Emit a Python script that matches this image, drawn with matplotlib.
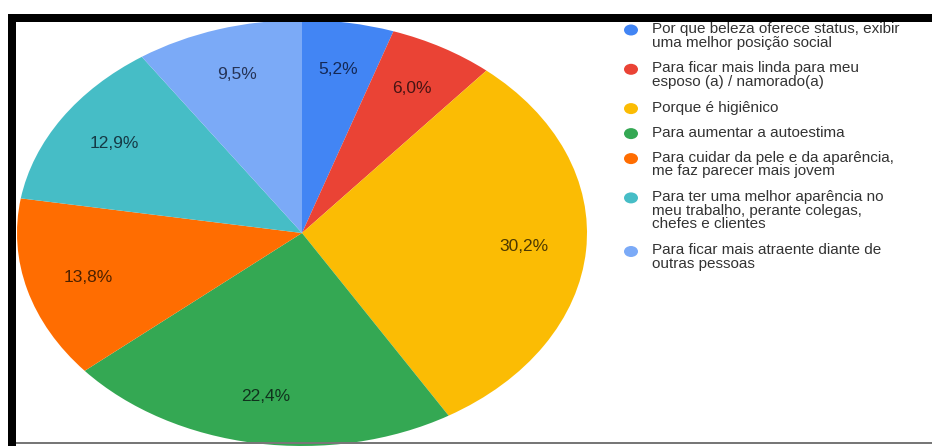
import matplotlib.pyplot as plt
from matplotlib.patches import Ellipse, Rectangle
from matplotlib.colors import to_rgb

# Respostas (percentuais)
labels = [
    "Por que beleza oferece status, exibir\numa melhor posição social",
    "Para ficar mais linda para meu\nesposo (a) / namorado(a)",
    "Porque é higiênico",
    "Para aumentar a autoestima",
    "Para cuidar da pele e da aparência,\nme faz parecer mais jovem",
    "Para ter uma melhor aparência no\nmeu trabalho, perante colegas,\nchefes e clientes",
    "Para ficar mais atraente diante de\noutras pessoas",
]
values = [5.2, 6.0, 30.2, 22.4, 13.8, 12.9, 9.5]
colors = ["#4285F4", "#EA4335", "#FBBC04", "#34A853", "#FF6D01", "#46BDC6", "#7BAAF7"]

plt.rcParams['font.family'] = ['Liberation Sans', 'DejaVu Sans']

W, H = 932, 446
fig = plt.figure(figsize=(W / 100, H / 100), dpi=100)

# pie area (stretched horizontally)
px_left, px_right, px_top, px_bottom = 17, 587, 20, 446
ax = fig.add_axes([px_left / W, 1 - px_bottom / H,
                   (px_right - px_left) / W, (px_bottom - px_top) / H])
wedges, _, autotexts = ax.pie(
    values, colors=colors, startangle=90, counterclock=False,
    autopct=lambda p: f"{p:.1f}%".replace(".", ","), pctdistance=0.78,
    wedgeprops=dict(edgecolor="none"), textprops=dict(fontsize=12.5))
for t, c in zip(autotexts, colors):
    r, g, b = to_rgb(c)
    t.set_color((r * 0.3, g * 0.3, b * 0.35))
ax.set_aspect("auto")
ax.set_xlim(-1, 1)
ax.set_ylim(-1, 1)
ax.axis("off")

# overlay in pixel coordinates for legend and frame
ov = fig.add_axes([0, 0, 1, 1], zorder=5)
ov.set_xlim(0, W)
ov.set_ylim(H, 0)
ov.axis("off")
ov.patch.set_alpha(0)

line_h = 14.3
gap = 10.7
y = 30
for lab, c in zip(labels, colors):
    ov.add_patch(Ellipse((631, y), 14, 11, color=c, lw=0))
    ov.text(652, y - 8, lab, fontsize=11, color="#333333",
            va="top", ha="left", linespacing=0.98)
    y += lab.count("\n") * line_h + line_h + gap

# frame
ov.add_patch(Rectangle((8, 14), W - 8, 8, color="black", lw=0))
ov.add_patch(Rectangle((8, 14), 8, H - 14, color="black", lw=0))
ov.add_patch(Rectangle((16, 442), W - 16, 1.5, color="#777777", lw=0))

fig.savefig("out.png", dpi=100)
